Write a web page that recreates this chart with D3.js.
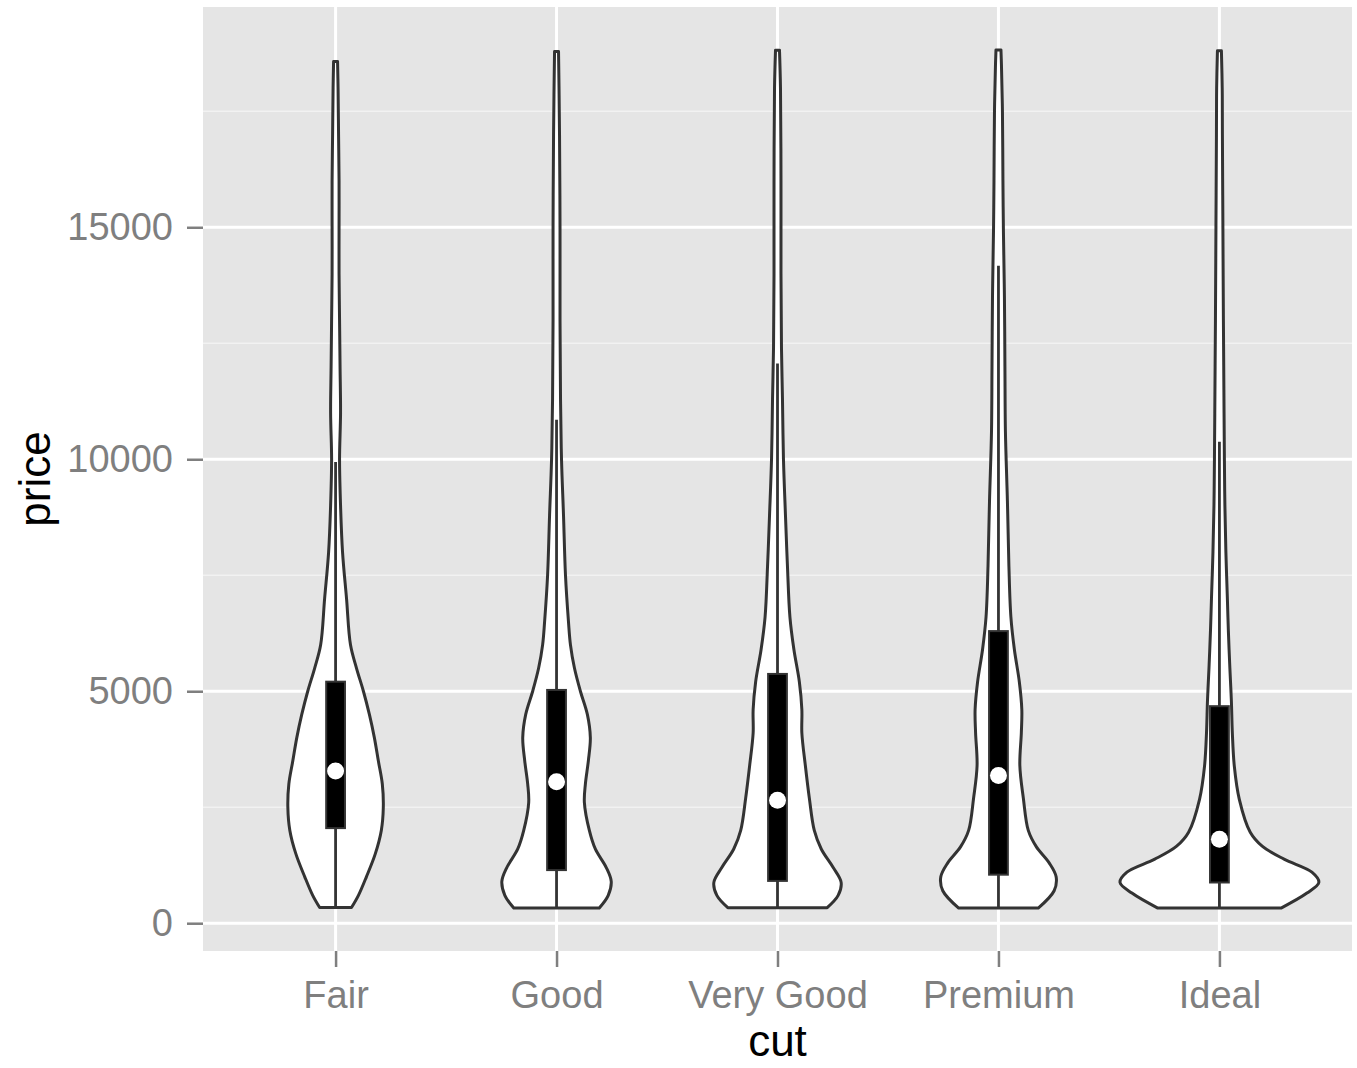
<!DOCTYPE html>
<html>
<head>
<meta charset="utf-8">
<script src="https://cdn.jsdelivr.net/npm/d3@7"></script>
<style>
  body { margin: 0; background: #fff; }
  text { font-family: "Liberation Sans", Arial, sans-serif; }
</style>
</head>
<body>
<div id="chart"></div>
<script>
// diamonds: price by cut
const cuts = ['Fair', 'Good', 'Very Good', 'Premium', 'Ideal']
const yTicks = [0, 5000, 10000, 15000]
const yMinor = [2500, 7500, 12500, 17500]

// box stats per cut
const q1 = [2050, 1145, 912, 1046, 878]
const median = [3282, 3050, 2648, 3185, 1810]
const q3 = [5206, 5028, 5373, 6296, 4678]
const whiskerLo = [337, 327, 336, 326, 326]
const whiskerHi = [9940, 10852, 12065, 14171, 10378]

// violin outlines: [price, relative density]
const fairProfile = [
  [337, 0.16], [600, 0.23], [1000, 0.31], [1500, 0.40], [2000, 0.46], [2500, 0.48],
  [3000, 0.47], [3500, 0.43], [4000, 0.39], [4500, 0.34], [5000, 0.28], [5500, 0.21],
  [6000, 0.15], [7000, 0.11], [8000, 0.07], [9000, 0.05], [10000, 0.04], [11000, 0.05],
  [12000, 0.045], [13000, 0.04], [14000, 0.035], [15000, 0.035], [16000, 0.035],
  [17000, 0.03], [18000, 0.025], [18574, 0.02]
]
const goodProfile = [
  [327, 0.43], [600, 0.52], [900, 0.55], [1200, 0.50], [1600, 0.39], [2000, 0.33],
  [2600, 0.28], [3000, 0.29], [3500, 0.32], [4000, 0.34], [4500, 0.31], [5000, 0.24],
  [5500, 0.18], [6000, 0.14], [6500, 0.12], [7500, 0.09], [8800, 0.07], [10000, 0.05],
  [11300, 0.04], [13000, 0.035], [15000, 0.035], [17000, 0.03], [18000, 0.025], [18788, 0.02]
]
const veryGoodProfile = [
  [336, 0.50], [600, 0.61], [880, 0.64], [1200, 0.56], [1600, 0.44], [2000, 0.37],
  [2700, 0.32], [3400, 0.28], [4100, 0.245], [4600, 0.245], [5200, 0.22], [5900, 0.165],
  [6600, 0.125], [7700, 0.10], [8800, 0.08], [10000, 0.06], [11300, 0.05], [12400, 0.04],
  [14000, 0.035], [16000, 0.035], [18000, 0.03], [18818, 0.02]
]
const premiumProfile = [
  [326, 0.40], [700, 0.56], [1000, 0.58], [1300, 0.51], [1650, 0.38], [2000, 0.30],
  [2700, 0.25], [3400, 0.215], [4100, 0.23], [4600, 0.235], [5200, 0.21], [5900, 0.16],
  [6600, 0.125], [7700, 0.105], [9100, 0.09], [10600, 0.07], [12000, 0.065], [13500, 0.06],
  [14900, 0.05], [16000, 0.045], [17500, 0.04], [18500, 0.03], [18823, 0.025]
]
const idealProfile = [
  [326, 0.62], [650, 0.88], [880, 1.00], [1100, 0.93], [1380, 0.65], [1660, 0.43],
  [1960, 0.31], [2670, 0.20], [3380, 0.15], [4100, 0.13], [4800, 0.12], [5500, 0.105],
  [6300, 0.09], [7000, 0.08], [8000, 0.065], [9000, 0.055], [10000, 0.05], [11500, 0.045],
  [13000, 0.04], [15000, 0.035], [17000, 0.03], [18000, 0.028], [18806, 0.02]
]
const profiles = [fairProfile, goodProfile, veryGoodProfile, premiumProfile, idealProfile]

const width = 1357
const height = 1068
const panel = { left: 203, right: 1352, top: 7, bottom: 951 }

const svg = d3.select('#chart')
  .append('svg')
  .attr('width', width)
  .attr('height', height)

// ggplot-ish 5% expansion on the data range
const pMin = d3.min(whiskerLo)
const pMax = d3.max(profiles, p => p[p.length - 1][0])
const pad = (pMax - pMin) * 0.05

const y = d3.scaleLinear()
  .domain([pMin - pad, pMax + pad])
  .range([panel.bottom, panel.top])

const x = d3.scalePoint()
  .domain(cuts)
  .range([panel.left, panel.right])
  .padding(0.6)

const w = d3.scaleLinear()
  .domain([0, 1])
  .range([0, x.step() * 0.45])

// panel background + grid
svg.append('rect')
  .attr('x', panel.left)
  .attr('y', panel.top)
  .attr('width', panel.right - panel.left)
  .attr('height', panel.bottom - panel.top)
  .attr('fill', '#e5e5e5')

const grid = svg.append('g')

grid.selectAll('.minor')
  .data(yMinor)
  .enter()
  .append('line')
  .attr('x1', panel.left)
  .attr('x2', panel.right)
  .attr('y1', d => y(d))
  .attr('y2', d => y(d))
  .attr('stroke', '#f2f2f2')
  .attr('stroke-width', 1.5)

grid.selectAll('.major')
  .data(yTicks)
  .enter()
  .append('line')
  .attr('x1', panel.left)
  .attr('x2', panel.right)
  .attr('y1', d => y(d))
  .attr('y2', d => y(d))
  .attr('stroke', '#fff')
  .attr('stroke-width', 3)

grid.selectAll('.vmajor')
  .data(cuts)
  .enter()
  .append('line')
  .attr('x1', d => x(d))
  .attr('x2', d => x(d))
  .attr('y1', panel.top)
  .attr('y2', panel.bottom)
  .attr('stroke', '#fff')
  .attr('stroke-width', 3)

// violins
const violin = (cx) => d3.area()
  .curve(d3.curveCatmullRom)
  .y(d => y(d[0]))
  .x0(d => cx - w(d[1]))
  .x1(d => cx + w(d[1]))

const groups = svg.append('g')
  .selectAll('g')
  .data(cuts)
  .enter()
  .append('g')

groups.append('path')
  .attr('d', (d, i) => violin(x(d))(profiles[i]))
  .attr('fill', '#fff')
  .attr('stroke', '#333')
  .attr('stroke-width', 3)
  .attr('stroke-linejoin', 'round')

// boxplot inside
groups.append('line')
  .attr('x1', d => x(d))
  .attr('x2', d => x(d))
  .attr('y1', (d, i) => y(whiskerLo[i]))
  .attr('y2', (d, i) => y(whiskerHi[i]))
  .attr('stroke', '#333')
  .attr('stroke-width', 2.8)

const boxW = x.step() * 0.085

groups.append('rect')
  .attr('x', d => x(d) - boxW / 2)
  .attr('width', boxW)
  .attr('y', (d, i) => y(q3[i]))
  .attr('height', (d, i) => y(q1[i]) - y(q3[i]))
  .attr('fill', '#000')
  .attr('stroke', '#333')
  .attr('stroke-width', 2)

groups.append('circle')
  .attr('cx', d => x(d))
  .attr('cy', (d, i) => y(median[i]))
  .attr('r', 8.5)
  .attr('fill', '#fff')

// axes
const yAxis = g => g
  .attr('transform', `translate(${panel.left},0)`)
  .call(d3.axisLeft(y).tickValues(yTicks).tickSize(16).tickPadding(14).tickFormat(d3.format('d')))
  .call(g => g.select('.domain').remove())
  .call(g => g.selectAll('line').attr('stroke', '#7f7f7f').attr('stroke-width', 2.5))
  .call(g => g.selectAll('text').attr('fill', '#7f7f7f').style('font-size', '38px').attr('font-family', null))

const xAxis = g => g
  .attr('transform', `translate(0,${panel.bottom})`)
  .call(d3.axisBottom(x).tickSize(16).tickPadding(14))
  .call(g => g.select('.domain').remove())
  .call(g => g.selectAll('line').attr('stroke', '#7f7f7f').attr('stroke-width', 2.5))
  .call(g => g.selectAll('text').attr('fill', '#7f7f7f').style('font-size', '38px').attr('font-family', null))

svg.append('g').call(yAxis)
svg.append('g').call(xAxis)

svg.append('text')
  .attr('x', x('Very Good'))
  .attr('y', 1056)
  .attr('text-anchor', 'middle')
  .style('font-size', '44px')
  .attr('fill', '#000')
  .text('cut')

svg.append('text')
  .attr('transform', `translate(50,${(panel.top + panel.bottom) / 2}) rotate(-90)`)
  .attr('text-anchor', 'middle')
  .style('font-size', '44px')
  .attr('fill', '#000')
  .text('price')
</script>
</body>
</html>
